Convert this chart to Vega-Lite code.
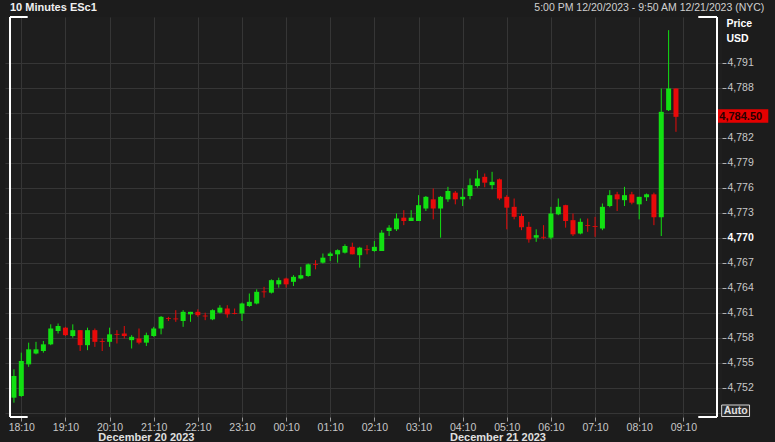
{
  "$schema": "https://vega.github.io/schema/vega-lite/v6.json",
  "width": 717,
  "height": 400,
  "autosize": {"type": "none"},
  "padding": {"left": 5, "top": 17, "right": 53, "bottom": 25},
  "background": "#1c1c1c",
  "config": {
    "view": {"stroke": null, "fill": "#1e1e1e"},
    "font": "Liberation Sans",
    "axis": {"labelFont": "Liberation Sans", "titleFont": "Liberation Sans", "labelOverlap": false, "labelBound": false},
    "text": {"font": "Liberation Sans"}
  },
  "datasets": {
    "candles": [
      {"t":"2023-12-20T18:00:00","o":4750.8,"h":4754.2,"l":4750.2,"c":4753.4},
      {"t":"2023-12-20T18:10:00","o":4751.0,"h":4756.2,"l":4750.9,"c":4755.2},
      {"t":"2023-12-20T18:20:00","o":4754.8,"h":4757.4,"l":4754.5,"c":4756.6},
      {"t":"2023-12-20T18:30:00","o":4756.1,"h":4757.5,"l":4756.0,"c":4756.6},
      {"t":"2023-12-20T18:40:00","o":4756.4,"h":4757.6,"l":4756.2,"c":4757.2},
      {"t":"2023-12-20T18:50:00","o":4757.2,"h":4759.6,"l":4757.1,"c":4759.1},
      {"t":"2023-12-20T19:00:00","o":4758.8,"h":4759.7,"l":4758.5,"c":4759.4},
      {"t":"2023-12-20T19:10:00","o":4759.2,"h":4759.3,"l":4758.2,"c":4758.3},
      {"t":"2023-12-20T19:20:00","o":4758.2,"h":4759.6,"l":4758.0,"c":4758.9},
      {"t":"2023-12-20T19:30:00","o":4758.9,"h":4758.9,"l":4756.4,"c":4757.1},
      {"t":"2023-12-20T19:40:00","o":4757.1,"h":4759.2,"l":4756.5,"c":4758.9},
      {"t":"2023-12-20T19:50:00","o":4758.9,"h":4759.1,"l":4756.9,"c":4757.5},
      {"t":"2023-12-20T20:00:00","o":4757.6,"h":4757.9,"l":4756.4,"c":4757.5},
      {"t":"2023-12-20T20:10:00","o":4757.5,"h":4759.2,"l":4756.9,"c":4758.4},
      {"t":"2023-12-20T20:20:00","o":4758.45,"h":4758.9,"l":4757.3,"c":4758.35},
      {"t":"2023-12-20T20:30:00","o":4758.5,"h":4759.4,"l":4757.9,"c":4758.2},
      {"t":"2023-12-20T20:40:00","o":4757.7,"h":4758.3,"l":4756.7,"c":4758.1},
      {"t":"2023-12-20T20:50:00","o":4757.9,"h":4759.1,"l":4757.2,"c":4757.4},
      {"t":"2023-12-20T21:00:00","o":4757.4,"h":4758.6,"l":4757.0,"c":4758.3},
      {"t":"2023-12-20T21:10:00","o":4758.2,"h":4759.3,"l":4758.1,"c":4759.1},
      {"t":"2023-12-20T21:20:00","o":4759.1,"h":4760.6,"l":4758.4,"c":4760.5},
      {"t":"2023-12-20T21:30:00","o":4760.35,"h":4760.5,"l":4760.0,"c":4760.25},
      {"t":"2023-12-20T21:40:00","o":4760.3,"h":4761.3,"l":4759.9,"c":4760.2},
      {"t":"2023-12-20T21:50:00","o":4760.0,"h":4761.3,"l":4759.3,"c":4761.1},
      {"t":"2023-12-20T22:00:00","o":4760.8,"h":4761.1,"l":4759.9,"c":4761.1},
      {"t":"2023-12-20T22:10:00","o":4761.1,"h":4761.4,"l":4760.5,"c":4760.7},
      {"t":"2023-12-20T22:20:00","o":4760.65,"h":4761.0,"l":4760.1,"c":4760.55},
      {"t":"2023-12-20T22:30:00","o":4760.2,"h":4761.4,"l":4760.1,"c":4761.3},
      {"t":"2023-12-20T22:40:00","o":4761.0,"h":4761.9,"l":4760.9,"c":4761.6},
      {"t":"2023-12-20T22:50:00","o":4761.5,"h":4761.9,"l":4760.4,"c":4760.8},
      {"t":"2023-12-20T23:00:00","o":4760.95,"h":4761.5,"l":4760.8,"c":4760.85},
      {"t":"2023-12-20T23:10:00","o":4760.9,"h":4762.2,"l":4760.0,"c":4762.1},
      {"t":"2023-12-20T23:20:00","o":4761.8,"h":4763.3,"l":4761.7,"c":4762.3},
      {"t":"2023-12-20T23:30:00","o":4762.1,"h":4763.8,"l":4762.0,"c":4763.5},
      {"t":"2023-12-20T23:40:00","o":4763.55,"h":4764.1,"l":4762.8,"c":4763.45},
      {"t":"2023-12-20T23:50:00","o":4763.4,"h":4765.0,"l":4763.3,"c":4764.9},
      {"t":"2023-12-21T00:00:00","o":4764.4,"h":4765.2,"l":4764.0,"c":4764.9},
      {"t":"2023-12-21T00:10:00","o":4765.1,"h":4765.2,"l":4764.0,"c":4764.4},
      {"t":"2023-12-21T00:20:00","o":4764.7,"h":4765.5,"l":4764.2,"c":4765.3},
      {"t":"2023-12-21T00:30:00","o":4765.1,"h":4766.5,"l":4765.0,"c":4765.5},
      {"t":"2023-12-21T00:40:00","o":4765.4,"h":4766.9,"l":4765.3,"c":4766.8},
      {"t":"2023-12-21T00:50:00","o":4766.85,"h":4767.3,"l":4766.2,"c":4766.75},
      {"t":"2023-12-21T01:00:00","o":4767.0,"h":4768.1,"l":4766.9,"c":4767.6},
      {"t":"2023-12-21T01:10:00","o":4767.8,"h":4768.3,"l":4767.2,"c":4768.1},
      {"t":"2023-12-21T01:20:00","o":4768.0,"h":4768.6,"l":4767.0,"c":4768.5},
      {"t":"2023-12-21T01:30:00","o":4768.2,"h":4769.2,"l":4768.1,"c":4769.0},
      {"t":"2023-12-21T01:40:00","o":4768.9,"h":4769.4,"l":4768.0,"c":4768.0},
      {"t":"2023-12-21T01:50:00","o":4767.9,"h":4768.9,"l":4766.4,"c":4768.8},
      {"t":"2023-12-21T02:00:00","o":4768.6,"h":4769.1,"l":4768.0,"c":4768.5},
      {"t":"2023-12-21T02:10:00","o":4768.4,"h":4769.6,"l":4768.3,"c":4768.9},
      {"t":"2023-12-21T02:20:00","o":4768.4,"h":4770.9,"l":4768.4,"c":4770.6},
      {"t":"2023-12-21T02:30:00","o":4770.8,"h":4771.5,"l":4770.2,"c":4771.2},
      {"t":"2023-12-21T02:40:00","o":4771.0,"h":4772.9,"l":4770.8,"c":4772.3},
      {"t":"2023-12-21T02:50:00","o":4772.4,"h":4773.3,"l":4771.5,"c":4772.0},
      {"t":"2023-12-21T03:00:00","o":4772.0,"h":4773.3,"l":4772.0,"c":4772.4},
      {"t":"2023-12-21T03:10:00","o":4772.0,"h":4775.1,"l":4772.0,"c":4773.9},
      {"t":"2023-12-21T03:20:00","o":4773.5,"h":4775.0,"l":4773.2,"c":4774.9},
      {"t":"2023-12-21T03:30:00","o":4774.6,"h":4775.9,"l":4772.2,"c":4773.5},
      {"t":"2023-12-21T03:40:00","o":4773.5,"h":4775.0,"l":4770.0,"c":4774.9},
      {"t":"2023-12-21T03:50:00","o":4774.6,"h":4776.1,"l":4774.3,"c":4775.6},
      {"t":"2023-12-21T04:00:00","o":4775.4,"h":4775.6,"l":4774.0,"c":4774.6},
      {"t":"2023-12-21T04:10:00","o":4774.6,"h":4775.9,"l":4773.8,"c":4774.9},
      {"t":"2023-12-21T04:20:00","o":4775.0,"h":4777.1,"l":4774.6,"c":4776.3},
      {"t":"2023-12-21T04:30:00","o":4776.2,"h":4778.1,"l":4776.0,"c":4777.1},
      {"t":"2023-12-21T04:40:00","o":4777.3,"h":4777.7,"l":4776.05,"c":4776.6},
      {"t":"2023-12-21T04:50:00","o":4776.3,"h":4777.9,"l":4775.8,"c":4776.7},
      {"t":"2023-12-21T05:00:00","o":4777.0,"h":4777.1,"l":4774.5,"c":4774.7},
      {"t":"2023-12-21T05:10:00","o":4774.9,"h":4775.1,"l":4771.0,"c":4773.6},
      {"t":"2023-12-21T05:20:00","o":4773.7,"h":4774.7,"l":4772.2,"c":4772.5},
      {"t":"2023-12-21T05:30:00","o":4772.6,"h":4772.9,"l":4770.9,"c":4771.25},
      {"t":"2023-12-21T05:40:00","o":4771.3,"h":4771.9,"l":4769.4,"c":4769.8},
      {"t":"2023-12-21T05:50:00","o":4770.0,"h":4771.0,"l":4769.5,"c":4770.3},
      {"t":"2023-12-21T06:00:00","o":4770.1,"h":4771.5,"l":4769.8,"c":4770.0},
      {"t":"2023-12-21T06:10:00","o":4770.0,"h":4773.7,"l":4769.8,"c":4772.9},
      {"t":"2023-12-21T06:20:00","o":4772.8,"h":4774.7,"l":4772.7,"c":4773.7},
      {"t":"2023-12-21T06:30:00","o":4773.9,"h":4773.95,"l":4771.2,"c":4772.0},
      {"t":"2023-12-21T06:40:00","o":4772.1,"h":4772.9,"l":4770.2,"c":4770.4},
      {"t":"2023-12-21T06:50:00","o":4770.5,"h":4772.3,"l":4770.4,"c":4771.9},
      {"t":"2023-12-21T07:00:00","o":4771.5,"h":4772.3,"l":4770.7,"c":4771.4},
      {"t":"2023-12-21T07:10:00","o":4771.4,"h":4772.5,"l":4770.1,"c":4771.3},
      {"t":"2023-12-21T07:20:00","o":4771.1,"h":4774.1,"l":4770.9,"c":4773.7},
      {"t":"2023-12-21T07:30:00","o":4773.8,"h":4775.7,"l":4773.65,"c":4775.1},
      {"t":"2023-12-21T07:40:00","o":4775.2,"h":4775.5,"l":4773.2,"c":4774.6},
      {"t":"2023-12-21T07:50:00","o":4774.5,"h":4776.1,"l":4773.8,"c":4775.1},
      {"t":"2023-12-21T08:00:00","o":4775.2,"h":4775.5,"l":4774.0,"c":4774.2},
      {"t":"2023-12-21T08:10:00","o":4774.0,"h":4774.9,"l":4772.2,"c":4774.9},
      {"t":"2023-12-21T08:20:00","o":4774.85,"h":4775.3,"l":4774.4,"c":4775.2},
      {"t":"2023-12-21T08:30:00","o":4775.2,"h":4775.4,"l":4771.5,"c":4772.45},
      {"t":"2023-12-21T08:40:00","o":4772.45,"h":4787.9,"l":4770.2,"c":4785.1},
      {"t":"2023-12-21T08:50:00","o":4785.3,"h":4794.9,"l":4785.2,"c":4787.9},
      {"t":"2023-12-21T09:00:00","o":4787.9,"h":4787.9,"l":4782.7,"c":4784.5}
    ]
  },
  "layer": [
    {
      "data": {"name": "candles"},
      "mark": {"type": "rule", "strokeWidth": 1},
      "encoding": {
        "x": {
          "field": "t", "type": "temporal",
          "scale": {
            "domain": [
              {"year": 2023, "month": 12, "date": 20, "hours": 17, "minutes": 54, "seconds": 38},
              {"year": 2023, "month": 12, "date": 21, "hours": 9, "minutes": 55, "seconds": 46}
            ],
            "nice": false
          },
          "axis": {
            "orient": "bottom",
            "values": [
              {"year": 2023, "month": 12, "date": 20, "hours": 18, "minutes": 10},
              {"year": 2023, "month": 12, "date": 20, "hours": 19, "minutes": 10},
              {"year": 2023, "month": 12, "date": 20, "hours": 20, "minutes": 10},
              {"year": 2023, "month": 12, "date": 20, "hours": 21, "minutes": 10},
              {"year": 2023, "month": 12, "date": 20, "hours": 22, "minutes": 10},
              {"year": 2023, "month": 12, "date": 20, "hours": 23, "minutes": 10},
              {"year": 2023, "month": 12, "date": 21, "hours": 0, "minutes": 10},
              {"year": 2023, "month": 12, "date": 21, "hours": 1, "minutes": 10},
              {"year": 2023, "month": 12, "date": 21, "hours": 2, "minutes": 10},
              {"year": 2023, "month": 12, "date": 21, "hours": 3, "minutes": 10},
              {"year": 2023, "month": 12, "date": 21, "hours": 4, "minutes": 10},
              {"year": 2023, "month": 12, "date": 21, "hours": 5, "minutes": 10},
              {"year": 2023, "month": 12, "date": 21, "hours": 6, "minutes": 10},
              {"year": 2023, "month": 12, "date": 21, "hours": 7, "minutes": 10},
              {"year": 2023, "month": 12, "date": 21, "hours": 8, "minutes": 10},
              {"year": 2023, "month": 12, "date": 21, "hours": 9, "minutes": 10}
            ],
            "tickCount": 30,
            "format": "%H:%M",
            "title": null,
            "grid": true,
            "gridColor": "#363636",
            "gridWidth": 1,
            "domain": false,
            "tickColor": "#9a9a9a",
            "tickSize": 4,
            "labelColor": "#c8c8c8",
            "labelFontSize": 10.5,
            "labelPadding": 1,
            "labelFlush": false,
            "labelOverlap": false
          }
        },
        "y": {
          "field": "h", "type": "quantitative",
          "scale": {"domain": [4748.48, 4796.48], "nice": false, "zero": false},
          "axis": {
            "orient": "right",
            "values": [4749, 4752, 4755, 4758, 4761, 4764, 4767, 4770, 4773, 4776, 4779, 4782, 4785, 4788, 4791],
            "tickCount": 30,
            "labelExpr": "datum.value == 4785 || datum.value == 4749 ? '' : format(datum.value, ',')",
            "grid": true,
            "gridColor": "#363636",
            "gridWidth": 1,
            "domain": false,
            "tickColor": "#b0b0b0",
            "tickSize": 4,
            "labelPadding": 1,
            "labelFontSize": 10.5,
            "labelColor": {"condition": {"test": "datum.value == 4770", "value": "#ffffff"}, "value": "#c8c8c8"},
            "labelFontWeight": {"condition": {"test": "datum.value == 4770", "value": "bold"}, "value": "normal"},
            "labelOverlap": false,
            "title": ["Price", "USD"],
            "titleAngle": 0,
            "titleAlign": "left",
            "titleBaseline": "top",
            "titleX": 4,
            "titleY": 1,
            "titleColor": "#ffffff",
            "titleFontSize": 10.5,
            "titleFontWeight": "bold",
            "titleLineHeight": 15
          }
        },
        "y2": {"field": "l"},
        "color": {"condition": {"test": "datum.c >= datum.o", "value": "#12e012"}, "value": "#e80a0a"}
      }
    },
    {
      "data": {"name": "candles"},
      "mark": {"type": "bar", "size": 5},
      "encoding": {
        "x": {"field": "t", "type": "temporal"},
        "y": {"field": "o", "type": "quantitative"},
        "y2": {"field": "c"},
        "color": {"condition": {"test": "datum.c >= datum.o", "value": "#12e012"}, "value": "#e80a0a"}
      }
    },
    {
      "data": {"values": [{}]},
      "mark": {"type": "rule", "color": "#ffffff", "strokeWidth": 2},
      "encoding": {
        "x": {"datum": {"year": 2023, "month": 12, "date": 20, "hours": 17, "minutes": 54, "seconds": 38}, "type": "temporal"}
      }
    },
    {
      "data": {"values": [{}]},
      "mark": {"type": "rule", "color": "#ffffff", "strokeWidth": 2},
      "encoding": {
        "x": {"datum": {"year": 2023, "month": 12, "date": 21, "hours": 9, "minutes": 55, "seconds": 46}, "type": "temporal"}
      }
    },
    {
      "data": {"values": [{}]},
      "mark": {"type": "rule", "color": "#ffffff", "strokeWidth": 2},
      "encoding": {
        "x": {"datum": {"year": 2023, "month": 12, "date": 20, "hours": 17, "minutes": 54, "seconds": 38}, "type": "temporal"},
        "x2": {"datum": {"year": 2023, "month": 12, "date": 20, "hours": 18, "minutes": 18, "seconds": 40}},
        "y": {"datum": 4796.48, "type": "quantitative"}
      }
    },
    {
      "data": {"values": [{}]},
      "mark": {"type": "rule", "color": "#ffffff", "strokeWidth": 2},
      "encoding": {
        "x": {"datum": {"year": 2023, "month": 12, "date": 20, "hours": 17, "minutes": 54, "seconds": 38}, "type": "temporal"},
        "x2": {"datum": {"year": 2023, "month": 12, "date": 20, "hours": 18, "minutes": 18, "seconds": 40}},
        "y": {"datum": 4748.48, "type": "quantitative"}
      }
    },
    {
      "data": {"values": [{}]},
      "mark": {"type": "rule", "color": "#ffffff", "strokeWidth": 2},
      "encoding": {
        "x": {"datum": {"year": 2023, "month": 12, "date": 21, "hours": 9, "minutes": 30, "seconds": 18}, "type": "temporal"},
        "x2": {"datum": {"year": 2023, "month": 12, "date": 21, "hours": 9, "minutes": 55, "seconds": 46}},
        "y": {"datum": 4796.48, "type": "quantitative"}
      }
    },
    {
      "data": {"values": [{}]},
      "mark": {"type": "rule", "color": "#ffffff", "strokeWidth": 2},
      "encoding": {
        "x": {"datum": {"year": 2023, "month": 12, "date": 21, "hours": 9, "minutes": 30, "seconds": 18}, "type": "temporal"},
        "x2": {"datum": {"year": 2023, "month": 12, "date": 21, "hours": 9, "minutes": 55, "seconds": 46}},
        "y": {"datum": 4748.48, "type": "quantitative"}
      }
    },
    {
      "data": {"values": [{}]},
      "mark": {"type": "rect", "color": "#e50000"},
      "encoding": {
        "x": {"datum": {"year": 2023, "month": 12, "date": 21, "hours": 9, "minutes": 57, "seconds": 6}, "type": "temporal"},
        "x2": {"datum": {"year": 2023, "month": 12, "date": 21, "hours": 11, "minutes": 5, "seconds": 30}},
        "y": {"datum": 4785.41, "type": "quantitative"},
        "y2": {"datum": 4783.8}
      }
    },
    {
      "data": {"values": [{"last": 4784.5}]},
      "mark": {"type": "text", "align": "center", "baseline": "middle", "fontSize": 11, "fontWeight": "bold", "color": "#2a0000"},
      "encoding": {
        "x": {"datum": {"year": 2023, "month": 12, "date": 21, "hours": 10, "minutes": 28, "seconds": 0}, "type": "temporal"},
        "y": {"field": "last", "type": "quantitative"},
        "text": {"field": "last", "format": ",.2f"}
      }
    },
    {
      "data": {"values": [{}]},
      "mark": {"type": "rect", "fill": "#2a2a2a", "stroke": "#d8d8d8", "strokeWidth": 1},
      "encoding": {
        "x": {"datum": {"year": 2023, "month": 12, "date": 21, "hours": 10, "minutes": 2, "seconds": 6}, "type": "temporal"},
        "x2": {"datum": {"year": 2023, "month": 12, "date": 21, "hours": 10, "minutes": 40, "seconds": 0}},
        "y": {"datum": 4749.92, "type": "quantitative"},
        "y2": {"datum": 4748.54}
      }
    },
    {
      "data": {"values": [{}]},
      "mark": {"type": "text", "text": "Auto", "align": "center", "baseline": "middle", "fontSize": 10.5, "fontWeight": "bold", "color": "#e0e0e0"},
      "encoding": {
        "x": {"datum": {"year": 2023, "month": 12, "date": 21, "hours": 10, "minutes": 21, "seconds": 12}, "type": "temporal"},
        "y": {"datum": 4749.2, "type": "quantitative"}
      }
    },
    {
      "data": {"values": [{}]},
      "mark": {"type": "text", "text": "10 Minutes ESc1", "align": "left", "baseline": "middle", "fontSize": 11, "fontWeight": "bold", "color": "#f0f0f0"},
      "encoding": {
        "x": {"datum": {"year": 2023, "month": 12, "date": 20, "hours": 17, "minutes": 54, "seconds": 38}, "type": "temporal"},
        "y": {"datum": 4797.56, "type": "quantitative"}
      }
    },
    {
      "data": {"values": [{}]},
      "mark": {"type": "text", "text": "5:00 PM 12/20/2023 - 9:50 AM 12/21/2023 (NYC)", "align": "right", "baseline": "middle", "fontSize": 10.5, "color": "#d0d0d0"},
      "encoding": {
        "x": {"datum": {"year": 2023, "month": 12, "date": 21, "hours": 11, "minutes": 0, "seconds": 6}, "type": "temporal"},
        "y": {"datum": 4797.56, "type": "quantitative"}
      }
    },
    {
      "data": {"values": [
        {"t": "2023-12-20T21:00:00", "label": "December 20 2023"},
        {"t": "2023-12-21T04:58:00", "label": "December 21 2023"}
      ]},
      "mark": {"type": "text", "align": "center", "baseline": "middle", "fontSize": 11, "fontWeight": "bold", "color": "#e0e0e0"},
      "encoding": {
        "x": {"field": "t", "type": "temporal"},
        "y": {"datum": 4745.96, "type": "quantitative"},
        "text": {"field": "label"}
      }
    }
  ]
}
